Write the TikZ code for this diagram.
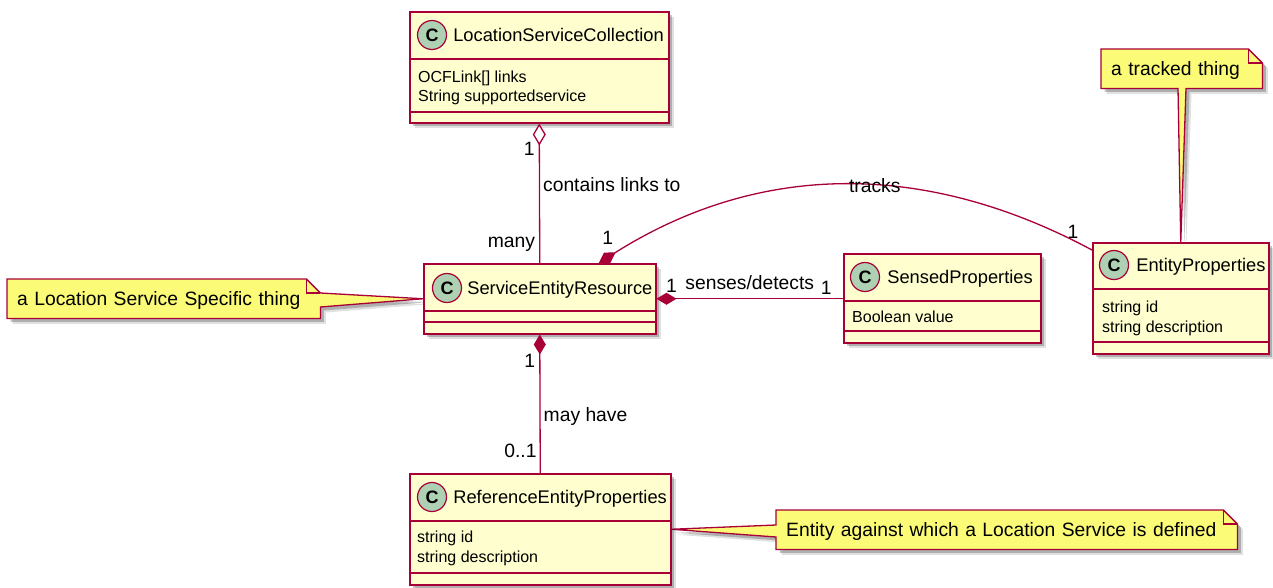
\documentclass[tikz,border=0pt]{standalone}
\usepackage{fontspec}
\setmainfont{Liberation Sans}
\usetikzlibrary{arrows.meta,positioning,calc}

\definecolor{umlred}{HTML}{A80036}
\definecolor{classbg}{HTML}{FEFECE}
\definecolor{spotbg}{HTML}{ADD1B2}
\definecolor{notebg}{HTML}{FBFB77}

\pgfdeclarelayer{background}
\pgfsetlayers{background,main}

\begin{document}
\begin{tikzpicture}[x=1pt,y=-1pt,
  shadowed/.style={
    preaction={fill=black,opacity=.12,transform canvas={shift={(5.5pt,-5.5pt)}}},
    preaction={fill=black,opacity=.22,transform canvas={shift={(3.5pt,-3.5pt)}}}},
  classbox/.style={shadowed,draw=umlred,fill=classbg,line width=1.5pt,inner sep=0pt,anchor=north west},
  compart/.style={draw=umlred,line width=1.5pt},
  spot/.style={circle,draw=umlred,fill=spotbg,line width=1.2pt,minimum size=29pt,inner sep=0pt,font=\fontsize{18}{18}\selectfont\bfseries},
  cname/.style={inner sep=0pt,anchor=west,text height=13.3pt,text depth=0pt,font=\fontsize{18.3}{22}\selectfont},
  attr/.style={inner sep=0pt,anchor=west,text height=11.5pt,text depth=0pt,font=\fontsize{16}{19}\selectfont},
  lbl/.style={inner sep=0pt,text height=13.8pt,text depth=0pt,font=\fontsize{19.3}{23}\selectfont},
  notetext/.style={inner xsep=10pt,inner ysep=0pt,anchor=north west,minimum height=39pt,align=left,text height=13.8pt,text depth=0pt,font=\fontsize{19.3}{23}\selectfont},
  notebody/.style={shadowed,draw=umlred,fill=notebg,line width=1.3pt},
  notefold/.style={draw=umlred,line width=1.3pt},
  link/.style={draw=umlred,line width=1.3pt},
  comp/.style={link,{Diamond[length=20pt,width=12pt,fill=umlred]}-},
  aggr/.style={link,{Diamond[length=22pt,width=13pt,fill=white]}-}
]
  \useasboundingbox (0,0) rectangle (1273,587);
  \begin{pgfonlayer}{background}
    \fill[white] (0,0) rectangle (1273,587);
  \end{pgfonlayer}

  % classes
  \node[classbox,minimum width=259pt,minimum height=111pt] (lsc) at (409,11) {};
  \foreach \dy in {48,101} \draw[compart] ($(lsc.north west)+(0,\dy)$) -- ($(lsc.north east)+(0,\dy)$);
  \node[spot] (lscC) at ($(lsc.north west)+(23,24)$) {C};
  \node[cname,right=6pt of lscC] (lscN) {LocationServiceCollection};
  \node[attr] (lscA) at ($(lsc.north west)+(9,66)$) {OCFLink[] links};
  \node[attr] (lscB) at ($(lsc.north west)+(9,85)$) {String supportedservice};

  \node[classbox,minimum width=232pt,minimum height=70pt] (ser) at (423,263) {};
  \foreach \dy in {48,59} \draw[compart] ($(ser.north west)+(0,\dy)$) -- ($(ser.north east)+(0,\dy)$);
  \node[spot] (serC) at ($(ser.north west)+(24,25)$) {C};
  \node[cname,right=5pt of serC] (serN) {ServiceEntityResource};

  \node[classbox,minimum width=197pt,minimum height=89pt] (sp) at (843,253) {};
  \foreach \dy in {48,78} \draw[compart] ($(sp.north west)+(0,\dy)$) -- ($(sp.north east)+(0,\dy)$);
  \node[spot] (spC) at ($(sp.north west)+(22,24)$) {C};
  \node[cname,right=7pt of spC] (spN) {SensedProperties};
  \node[attr] (spA) at ($(sp.north west)+(9,64)$) {Boolean value};

  \node[classbox,minimum width=176pt,minimum height=111pt] (ep) at (1092,242) {};
  \foreach \dy in {47,100} \draw[compart] ($(ep.north west)+(0,\dy)$) -- ($(ep.north east)+(0,\dy)$);
  \node[spot] (epC) at ($(ep.north west)+(22,23)$) {C};
  \node[cname,right=7pt of epC] (epN) {EntityProperties};
  \node[attr] (epA) at ($(ep.north west)+(10,65)$) {string id};
  \node[attr] (epB) at ($(ep.north west)+(10,85)$) {string description};

  \node[classbox,minimum width=261pt,minimum height=111pt] (rep) at (409,473) {};
  \foreach \dy in {48,100} \draw[compart] ($(rep.north west)+(0,\dy)$) -- ($(rep.north east)+(0,\dy)$);
  \node[spot] (repC) at ($(rep.north west)+(23,24)$) {C};
  \node[cname,right=6pt of repC] (repN) {ReferenceEntityProperties};
  \node[attr] (repA) at ($(rep.north west)+(8,64)$) {string id};
  \node[attr] (repB) at ($(rep.north west)+(8,84)$) {string description};

  % notes
  \node[notetext,text width=293pt] (noteSer) at (7,279) {a Location Service Specific thing};
  \node[notetext,text width=141pt] (noteEp) at (1101,49) {a tracked thing};
  \node[notetext,text width=441pt] (noteRep) at (776,510) {Entity against which a Location Service is defined};
  \begin{pgfonlayer}{background}
    \draw[notebody] (noteSer.north west) -- ($(noteSer.north east)+(-14,0)$) -- ($(noteSer.north east)+(0,14)$)
      -- (ser.west) -- ($(noteSer.north east)+(0,28)$) -- (noteSer.south east) -- (noteSer.south west) -- cycle;
    \draw[notebody] (noteEp.north west) -- ($(noteEp.north east)+(-14,0)$) -- ($(noteEp.north east)+(0,14)$)
      -- (noteEp.south east) -- ($(noteEp.south west)+(85,0)$) -- (ep.north) -- ($(noteEp.south west)+(77,0)$)
      -- (noteEp.south west) -- cycle;
    \draw[notebody] (noteRep.north west) -- ($(noteRep.north east)+(-14,0)$) -- ($(noteRep.north east)+(0,14)$)
      -- (noteRep.south east) -- (noteRep.south west) -- ($(noteRep.north west)+(0,27)$) -- (rep.east)
      -- ($(noteRep.north west)+(0,15)$) -- cycle;
  \end{pgfonlayer}
  \foreach \n in {noteSer,noteEp,noteRep}
    \draw[notefold] ($(\n.north east)+(-14,0)$) |- ($(\n.north east)+(0,14)$);

  % associations
  \draw[aggr] (lsc.south) -- (ser.north)
    node[lbl,pos=.18,left=4pt] (mulLsc) {1}
    node[lbl,pos=.44,right=3pt] (labLinks) {contains links to}
    node[lbl,pos=.84,left=4pt] (mulMany) {many};
  \draw[comp] ($(ser.north)+(59,0)$) .. controls (762,160) and (928,162) .. ($(ep.north west)+(0,8)$)
    node[lbl,pos=.56] (labTracks) {tracks}
    node[lbl,at start,xshift=9pt,yshift=25pt] (mulTrkA) {1}
    node[lbl,at end,xshift=-19pt,yshift=18pt] (mulTrkB) {1};
  \draw[comp] (ser.east) -- (sp.west |- ser.east)
    node[lbl,pos=.08,above=6pt] (mulSenA) {1}
    node[lbl,pos=.5,above=9pt] (labSenses) {senses/detects}
    node[lbl,pos=.91,above=4pt] (mulSenB) {1};
  \draw[comp] (ser.south) -- (rep.north)
    node[lbl,pos=.19,left=4pt] (mulRefA) {1}
    node[lbl,pos=.58,right=3pt] (labMay) {may have}
    node[lbl,pos=.84,left=3pt] (mulRefB) {0..1};
\end{tikzpicture}
\end{document}
